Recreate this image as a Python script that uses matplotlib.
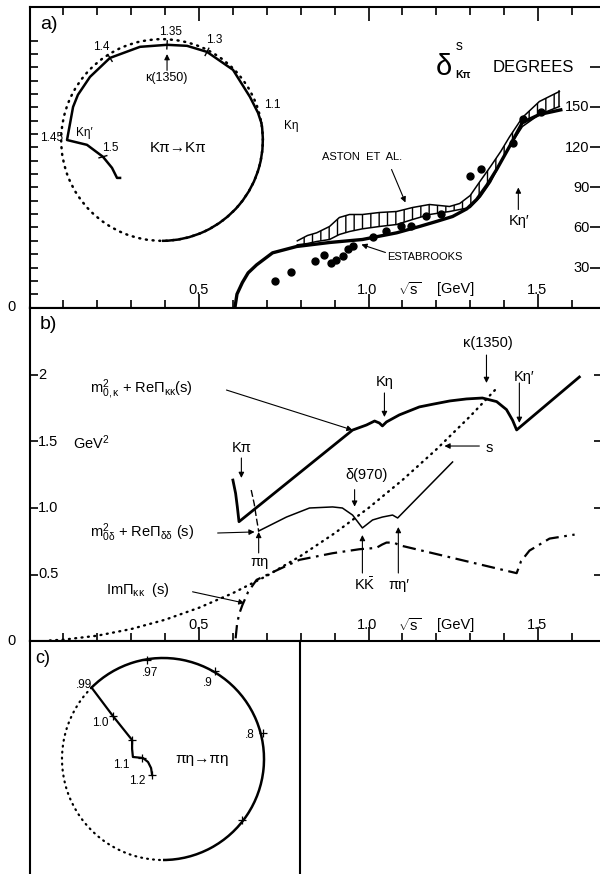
import numpy as np
import matplotlib
matplotlib.use("Agg")
import matplotlib.pyplot as plt
from matplotlib.patches import Arc

plt.rcParams["font.family"] = ["Liberation Sans", "DejaVu Sans"]
plt.rcParams["mathtext.fontset"] = "custom"
plt.rcParams["mathtext.rm"] = "Liberation Sans"
plt.rcParams["mathtext.it"] = "Liberation Sans"
plt.rcParams["mathtext.bf"] = "Liberation Sans:bold"
plt.rcParams["hatch.linewidth"] = 1.0

# ---------------- data ----------------
# panel a: delta^s_Kpi (degrees) vs sqrt(s) (GeV)
theory_sqrts = [0.606, 0.612, 0.628, 0.645, 0.670, 0.717, 0.788, 0.885, 0.982, 1.083, 1.15, 1.20,
                1.248, 1.29, 1.319, 1.35, 1.378, 1.416, 1.454, 1.504, 1.572]
theory_delta = [0, 10, 18.75, 26, 32, 41, 45.75, 48.75, 51, 56, 60.75, 64.5,
                68.25, 74, 81, 92, 103.5, 120.75, 138.75, 144.75, 148.5]

aston_sqrts = [0.79, 0.82, 0.847, 0.885, 0.914, 0.944, 0.982, 1.032, 1.083, 1.13, 1.18, 1.239,
               1.269, 1.30, 1.33, 1.36, 1.39, 1.416, 1.454, 1.504, 1.563]
aston_hi = [50, 54, 56, 60.75, 67.5, 69.75, 69.75, 71.25, 72, 75, 77.25, 75.75,
            78, 84, 95, 105.75, 117, 128, 142.5, 154.5, 162]
aston_lo = [47, 48, 49.5, 51, 54.75, 57, 59, 60.75, 62.25, 66, 69.75, 72,
            73.5, 75, 83, 94, 109, 120.75, 135.75, 144.75, 150.75]

estab_sqrts = [0.723, 0.770, 0.841, 0.870, 0.890, 0.905, 0.924, 0.939, 0.954, 1.013, 1.052, 1.096,
               1.126, 1.170, 1.214, 1.298, 1.332, 1.426, 1.455, 1.509]
estab_delta = [20.25, 27, 34.7, 39, 33.5, 36, 38.5, 43.5, 46, 53, 57.3, 61,
               61, 68.5, 69.75, 98.5, 103.5, 123.5, 141, 146.5]

deg_ticks = [30, 60, 90, 120, 150]

# Argand trajectory K pi -> K pi (Re T, Im T), inelastic part
kpi_elastic_end_deg = 10
kpi_re = [0.492, 0.476, 0.436, 0.352, 0.223, 0.124, 0.025, -0.109, -0.258, -0.357, -0.417, -0.441,
          -0.471, -0.372, -0.293, -0.248, -0.223, -0.208]
kpi_im = [0.587, 0.635, 0.714, 0.848, 0.937, 0.967, 0.972, 0.962, 0.907, 0.813, 0.724, 0.664,
          0.500, 0.476, 0.417, 0.362, 0.312, 0.312]
kpi_tick_re = [0.223, 0.025, -0.258, -0.293]
kpi_tick_im = [0.937, 0.972, 0.907, 0.417]

# panel b curves
kappa_x = [0.600, 0.608, 0.613, 0.618, 0.953, 0.994, 1.018, 1.032, 1.041, 1.053, 1.091, 1.150,
           1.189, 1.24, 1.289, 1.336, 1.378, 1.407, 1.425, 1.437, 1.622]
kappa_y = [1.21, 1.11, 1.01, 0.897, 1.586, 1.624, 1.654, 1.639, 1.617, 1.647, 1.70, 1.76,
           1.78, 1.805, 1.82, 1.827, 1.80, 1.74, 1.66, 1.587, 1.985]

delta_arc_x = [0.654, 0.663, 0.669, 0.676]
delta_arc_y = [1.135, 1.03, 0.93, 0.827]
delta_x = [0.676, 0.758, 0.826, 0.894, 0.923, 0.953, 0.982, 1.012, 1.041, 1.071, 1.086, 1.248]
delta_y = [0.827, 0.932, 1.0, 1.008, 1.0, 0.947, 0.85, 0.91, 0.932, 0.947, 0.925, 1.346]

s_x = [0.06, 0.1, 0.2, 0.3, 0.4, 0.5, 0.6, 0.7, 0.8, 0.9, 1.0, 1.1, 1.2, 1.3, 1.378]
s_y = [0.004, 0.01, 0.04, 0.09, 0.16, 0.25, 0.36, 0.49, 0.64, 0.81, 1.0, 1.21, 1.44, 1.69, 1.9]

imk_x = [0.608, 0.612, 0.618, 0.628, 0.645, 0.670, 0.728, 0.796, 0.894, 0.973, 1.023, 1.040,
         1.053, 1.075, 1.091, 1.437, 1.450, 1.475, 1.534, 1.608]
imk_y = [0.02, 0.12, 0.20, 0.27, 0.37, 0.46, 0.53, 0.61, 0.66, 0.69, 0.70, 0.725,
         0.74, 0.74, 0.72, 0.51, 0.60, 0.68, 0.77, 0.80]

gev2_ticks = [0.5, 1.0, 1.5, 2.0]
gev2_labels = ["0.5", "1.0", "1.5", "2"]

# Argand trajectory pi eta -> pi eta
pe_elastic_end_deg = 135
pe_re = [-0.354, -0.248, -0.153, -0.153, -0.149, -0.099, -0.074, -0.059, -0.054]
pe_im = [0.854, 0.713, 0.594, 0.550, 0.510, 0.505, 0.485, 0.455, 0.421]
pe_tick_re = [-0.079, 0.257, 0.495, 0.391, -0.248, -0.153, -0.104, -0.054]
pe_tick_im = [0.990, 0.936, 0.629, 0.198, 0.713, 0.594, 0.505, 0.421]

# ---------------- figure ----------------
W, H = 600, 874
PX_GEV = 339.0
fig = plt.figure(figsize=(W / 100, H / 100), dpi=100)


def box(x0, y0, x1, y1):
    return [x0 / W, 1 - y1 / H, (x1 - x0) / W, (y1 - y0) / H]


XMAX = (602 - 29.5) / PX_GEV
SPW = 1.5
arrow = dict(arrowstyle="-|>", lw=0.8, color="k", mutation_scale=8, shrinkA=0, shrinkB=0)
dotted = (0, (0.4, 2.3))

# ---------- panel a ----------
ax_a = fig.add_axes(box(29.5, 7, 602, 307.5))
ax_a.set_xlim(0, XMAX)
ax_a.set_ylim(0, (307.5 - 7) * 0.75)
ax_a.spines["right"].set_visible(False)
for s in ["left", "top", "bottom"]:
    ax_a.spines[s].set_linewidth(SPW)
ax_a.set_xticks([0.5, 1.0, 1.5])
ax_a.set_xticks(np.arange(0.1, 1.65, 0.1), minor=True)
ax_a.tick_params(axis="x", which="major", direction="in", length=10, width=1.2,
                 top=True, bottom=True, labelbottom=False)
ax_a.tick_params(axis="x", which="minor", direction="in", length=6, width=1.2,
                 top=True, bottom=True)
ax_a.set_yticks(np.arange(10, 201, 10))
ax_a.tick_params(axis="y", direction="in", length=6, width=1.2, left=True, right=False,
                 labelleft=False)
ax_ar = ax_a.twinx()
ax_ar.set_ylim(ax_a.get_ylim())
ax_ar.set_yticks(deg_ticks + [180])
ax_ar.tick_params(axis="y", direction="in", length=9, width=1.2, labelright=False)
for s in ax_ar.spines.values():
    s.set_visible(False)

ax_a.fill_between(aston_sqrts, aston_lo, aston_hi, facecolor="none", edgecolor="k",
                  hatch="||", linewidth=0)
ax_a.plot(aston_sqrts, aston_hi, color="k", lw=1.1)
ax_a.plot(aston_sqrts, aston_lo, color="k", lw=1.1)
ax_a.plot([aston_sqrts[-1], aston_sqrts[-1]], [aston_lo[-1], aston_hi[-1]], color="k", lw=1.1)
ax_a.plot(theory_sqrts, theory_delta, color="k", lw=2.4, solid_capstyle="butt")
ax_a.plot(estab_sqrts, estab_delta, "o", color="k", ms=5)

for v in deg_ticks:
    ax_a.text((590 - 30) / PX_GEV, v, str(v), ha="right", va="center", fontsize=10.5)
ax_a.text(0.03, 212, "a)", fontsize=14, ha="left", va="center")
ax_a.text(1.198, 180, "δ", fontsize=21, ha="left", va="center")
ax_a.text(1.257, 196, "s", fontsize=10, ha="left", va="center")
ax_a.text(1.257, 174, "Kπ", fontsize=7.5, fontweight="bold", ha="left", va="center")
ax_a.text(1.366, 180, "DEGREES", fontsize=12, ha="left", va="center")
ax_a.text(0.982, 112.5, "ASTON  ET  AL.", fontsize=8, ha="center", va="center")
ax_a.annotate("", xy=(1.109, 78.75), xytext=(1.068, 103.5), arrowprops=arrow)
ax_a.text(1.056, 37.5, "ESTABROOKS", fontsize=8, ha="left", va="center")
ax_a.annotate("", xy=(0.979, 47.25), xytext=(1.050, 41.25), arrowprops=arrow)
ax_a.text(1.445, 64.5, "Kη′", fontsize=10.5, ha="center", va="center")
ax_a.annotate("", xy=(1.442, 90), xytext=(1.442, 73.5), arrowprops=arrow)
for xv, t in [(0.499, "0.5"), (0.997, "1.0"), (1.496, "1.5"), (1.257, "[GeV]")]:
    ax_a.text(xv, 13.5, t, fontsize=10.5, ha="center", va="center")
ax_a.text(1.121, 13.5, r"$\sqrt{\rm s}$", fontsize=10.5, ha="center", va="center")

# Argand inset for panel a
ax_ia = fig.add_axes(box(41, 19, 283, 261))
ax_ia.set_xlim(-0.6, 0.6)
ax_ia.set_ylim(-0.1, 1.1)
ax_ia.axis("off")
ax_ia.patch.set_alpha(0)
ax_ia.add_patch(Arc((0, 0.5), 1, 1, theta1=0, theta2=360, lw=1.8, ls=dotted, color="k",
                    capstyle="round"))
ax_ia.add_patch(Arc((0, 0.5), 1, 1, theta1=-90, theta2=kpi_elastic_end_deg, lw=1.8, color="k"))
ax_ia.plot(kpi_re, kpi_im, color="k", lw=1.8)
for re, im in zip(kpi_tick_re, kpi_tick_im):
    u = np.array([re, im - 0.5])
    u = u / np.hypot(*u)
    ax_ia.plot([re - 0.02 * u[0], re + 0.02 * u[0]], [im - 0.02 * u[1], im + 0.02 * u[1]],
               color="k", lw=1.0)
ax_ia.text(0.04, 1.035, "1.35", fontsize=8.5, ha="center", va="center")
ax_ia.text(0.258, 0.996, "1.3", fontsize=8.5, ha="center", va="center")
ax_ia.text(-0.302, 0.961, "1.4", fontsize=8.5, ha="center", va="center")
ax_ia.text(0.545, 0.673, "1.1", fontsize=8.5, ha="center", va="center")
ax_ia.text(0.64, 0.569, "Kη", fontsize=8.5, ha="center", va="center")
ax_ia.text(-0.545, 0.509, "1.45", fontsize=8.5, ha="center", va="center")
ax_ia.text(-0.387, 0.534, "Kη′", fontsize=8.5, ha="center", va="center")
ax_ia.text(-0.258, 0.460, "1.5", fontsize=8.5, ha="center", va="center")
ax_ia.text(0.02, 0.807, "κ(1350)", fontsize=9, ha="center", va="center")
ax_ia.annotate("", xy=(0.025, 0.926), xytext=(0.025, 0.845), arrowprops=arrow)
ax_ia.text(0.079, 0.460, "Kπ→Kπ", fontsize=11, ha="center", va="center")

# ---------- panel b ----------
ax_b = fig.add_axes(box(29.5, 307.5, 602, 641))
ax_b.set_xlim(0, XMAX)
ax_b.set_ylim(0, (641 - 307.5) / 133)
ax_b.spines["right"].set_visible(False)
for s in ["left", "top", "bottom"]:
    ax_b.spines[s].set_linewidth(SPW)
ax_b.set_xticks([0.5, 1.0, 1.5])
ax_b.set_xticks(np.arange(0.1, 1.65, 0.1), minor=True)
ax_b.tick_params(axis="x", which="major", direction="in", length=10, width=1.2,
                 bottom=True, top=False, labelbottom=False)
ax_b.tick_params(axis="x", which="minor", direction="in", length=6, width=1.2,
                 bottom=True, top=False)
ax_b.set_yticks(gev2_ticks)
ax_b.tick_params(axis="y", direction="in", length=6, width=1.2, left=True, right=True,
                 labelleft=False)

ax_b.plot(s_x, s_y, color="k", lw=1.7, ls=dotted, dash_capstyle="round")
ax_b.plot(imk_x, imk_y, color="k", lw=1.6, ls=(0, (6, 2.5, 1.2, 2.5)))
ax_b.plot(delta_arc_x, delta_arc_y, color="k", lw=1.0, ls=(0, (5, 2)))
ax_b.plot(delta_x, delta_y, color="k", lw=1.1)
ax_b.plot(kappa_x, kappa_y, color="k", lw=2.0)

for v, t in zip(gev2_ticks, gev2_labels):
    ax_b.text(0.025, v, t, fontsize=10.5, ha="left", va="center")
ax_b.text(0.03, 2.376, "b)", fontsize=14, ha="left", va="center")
ax_b.text(0.127, 1.49, "GeV$^2$", fontsize=10.5, ha="left", va="center")
ax_b.text(0.177, 1.887, r"$\mathrm{m}^2_{0,\kappa}$ + ReΠ$_{\kappa\kappa}$(s)", fontsize=10.5,
          ha="left", va="center")
ax_b.annotate("", xy=(0.953, 1.586), xytext=(0.581, 1.887), arrowprops=arrow)
ax_b.text(0.177, 0.812, r"$\mathrm{m}^2_{0\delta}$ + ReΠ$_{\delta\delta}$ (s)", fontsize=10.5,
          ha="left", va="center")
ax_b.annotate("", xy=(0.664, 0.820), xytext=(0.555, 0.812), arrowprops=arrow)
ax_b.text(0.227, 0.383, r"ImΠ$_{\kappa\kappa}$  (s)", fontsize=10.5, ha="left", va="center")
ax_b.annotate("", xy=(0.634, 0.285), xytext=(0.481, 0.37), arrowprops=arrow)
ax_b.text(0.625, 1.45, "Kπ", fontsize=10.5, ha="center", va="center")
ax_b.annotate("", xy=(0.625, 1.226), xytext=(0.625, 1.376), arrowprops=arrow)
ax_b.text(0.678, 0.594, "πη", fontsize=10.5, ha="center", va="center")
ax_b.annotate("", xy=(0.676, 0.82), xytext=(0.676, 0.662), arrowprops=arrow)
ax_b.text(0.994, 1.248, "δ(970)", fontsize=10.5, ha="center", va="center")
ax_b.annotate("", xy=(0.959, 1.01), xytext=(0.959, 1.138), arrowprops=arrow)
ax_b.text(0.988, 0.421, r"K$\bar{\mathrm{K}}$", fontsize=10.5, ha="center", va="center")
ax_b.annotate("", xy=(0.982, 0.797), xytext=(0.982, 0.511), arrowprops=arrow)
ax_b.text(1.091, 0.421, "πη′", fontsize=10.5, ha="center", va="center")
ax_b.annotate("", xy=(1.088, 0.857), xytext=(1.088, 0.511), arrowprops=arrow)
ax_b.text(1.047, 1.95, "Kη", fontsize=10.5, ha="center", va="center")
ax_b.annotate("", xy=(1.047, 1.684), xytext=(1.047, 1.865), arrowprops=arrow)
ax_b.text(1.351, 2.242, "κ(1350)", fontsize=10.5, ha="center", va="center")
ax_b.annotate("", xy=(1.348, 1.94), xytext=(1.348, 2.15), arrowprops=arrow)
ax_b.text(1.460, 1.985, "Kη′", fontsize=10.5, ha="center", va="center")
ax_b.annotate("", xy=(1.445, 1.64), xytext=(1.445, 1.94), arrowprops=arrow)
ax_b.text(1.357, 1.45, "s", fontsize=10.5, ha="center", va="center")
ax_b.annotate("", xy=(1.224, 1.466), xytext=(1.327, 1.466), arrowprops=arrow)
for xv, t in [(0.499, "0.5"), (0.997, "1.0"), (1.496, "1.5"), (1.257, "[GeV]")]:
    ax_b.text(xv, 0.12, t, fontsize=10.5, ha="center", va="center")
ax_b.text(1.121, 0.12, r"$\sqrt{\rm s}$", fontsize=10.5, ha="center", va="center")

fig.text(12 / W, 1 - 307 / H, "0", fontsize=10.5, ha="center", va="center")
fig.text(12 / W, 1 - 641 / H, "0", fontsize=10.5, ha="center", va="center")

# ---------- panel c ----------
ax_c = fig.add_axes(box(29.5, 641, 300, 880))
ax_c.set_xlim((29.5 - 163) / 202, (300 - 163) / 202)
ax_c.set_ylim((860 - 880) / 202, (860 - 641) / 202)
ax_c.set_xticks([])
ax_c.set_yticks([])
ax_c.spines["bottom"].set_visible(False)
for s in ["left", "top", "right"]:
    ax_c.spines[s].set_linewidth(SPW)
ax_c.add_patch(Arc((0, 0.5), 1, 1, theta1=pe_elastic_end_deg, theta2=270, lw=1.6, ls=dotted,
                   color="k", capstyle="round"))
ax_c.add_patch(Arc((0, 0.5), 1, 1, theta1=-90, theta2=pe_elastic_end_deg, lw=1.8, color="k"))
ax_c.plot(pe_re, pe_im, color="k", lw=1.6)
ax_c.plot(pe_tick_re, pe_tick_im, "+", color="k", ms=6, mew=0.9)
ax_c.text(-0.634, 1.0, "c)", fontsize=13, ha="left", va="center")
ax_c.text(-0.391, 0.866, ".99", fontsize=8.5, ha="center", va="center")
ax_c.text(-0.064, 0.926, ".97", fontsize=8.5, ha="center", va="center")
ax_c.text(0.223, 0.876, ".9", fontsize=8.5, ha="center", va="center")
ax_c.text(0.431, 0.619, ".8", fontsize=8.5, ha="center", va="center")
ax_c.text(-0.312, 0.678, "1.0", fontsize=8.5, ha="center", va="center")
ax_c.text(-0.208, 0.470, "1.1", fontsize=8.5, ha="center", va="center")
ax_c.text(-0.129, 0.391, "1.2", fontsize=8.5, ha="center", va="center")
ax_c.text(0.193, 0.5, "πη→πη", fontsize=11, ha="center", va="center")

fig.savefig("out.png", dpi=100)
